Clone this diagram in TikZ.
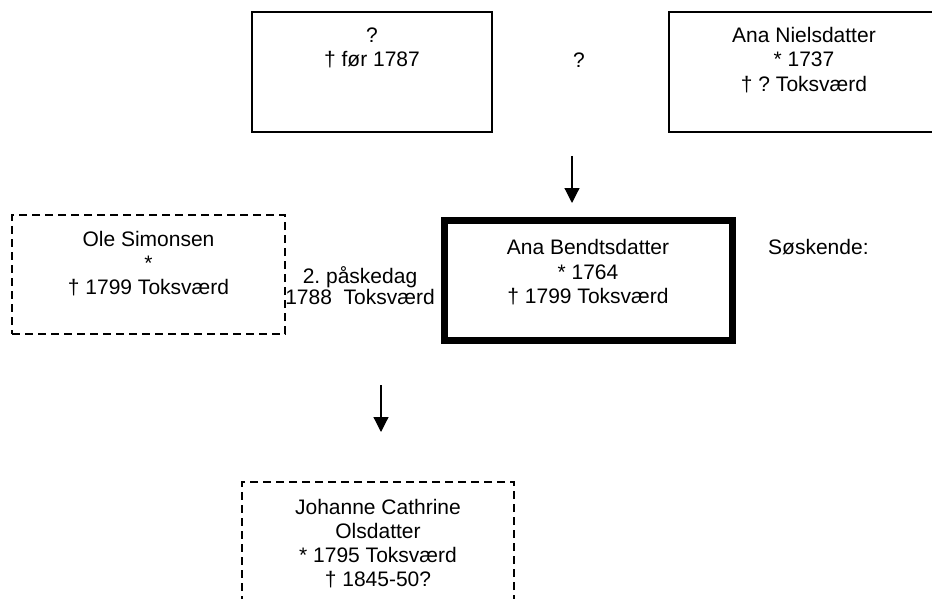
\documentclass[tikz,border=0pt]{standalone}
\usepackage{fontspec}
\setmainfont{Liberation Sans}
\usetikzlibrary{arrows.meta}
\frenchspacing
\begin{document}
\begin{tikzpicture}[x=1pt,y=-1pt,
  box/.style={draw,rectangle,inner sep=0pt,line width=1.2pt},
  dbox/.style={box,dash pattern=on 8pt off 5pt},
  mainbox/.style={box,line width=7pt},
  txt/.style={anchor=base,align=center,inner sep=0pt,font=\fontsize{21}{24.3}\selectfont},
  arr/.style={line width=1.2pt,-{Triangle[length=15pt,width=15pt]}}]
\clip (0,0) rectangle (932,599);
\useasboundingbox (0,0) rectangle (932,599);
% boxes
\node[box,minimum width=240pt,minimum height=120pt] (fbox) at (372,72) {};
\node[box,minimum width=270pt,minimum height=120pt] (mbox) at (804,72) {};
\node[mainbox,minimum width=288pt,minimum height=120pt] (abox) at (588.5,280.5) {};
\node[dbox,minimum width=273pt,minimum height=119pt] (obox) at (148.5,274.5) {};
\node[dbox,minimum width=272pt,minimum height=122pt] (cbox) at (378,543) {};
% texts (base anchor = baseline of last line)
\node[txt] (ftxt) at (372,67) {?\\† før 1787};
\node[txt] (q) at (579,68) {?};
\node[txt] (mtxt) at (804,91.3) {Ana Nielsdatter\\* 1737\\† ? Toksværd};
\node[txt] (atxt) at (588,303.3) {Ana Bendtsdatter\\* 1764\\† 1799 Toksværd};
\node[txt,anchor=base west] (sosk) at (768,254.5) {Søskende:};
\node[txt] (otxt) at (148.5,294.8) {Ole Simonsen\\*\\† 1799 Toksværd};
\node[txt,font=\fontsize{21}{21}\selectfont] (wed) at (360,304.5) {2. påskedag\\1788~~Toksværd};
\node[txt,font=\fontsize{21}{23.8}\selectfont] (ctxt) at (378,586) {Johanne Cathrine\\Olsdatter\\* 1795 Toksværd\\† 1845-50?};
% arrows
\coordinate (a1s) at (572,156);
\coordinate (a1e) at (572,203);
\coordinate (a2s) at (381,385);
\coordinate (a2e) at (381,432);
\draw[arr] (a1s) -- (a1e);
\draw[arr] (a2s) -- (a2e);
\end{tikzpicture}
\end{document}
